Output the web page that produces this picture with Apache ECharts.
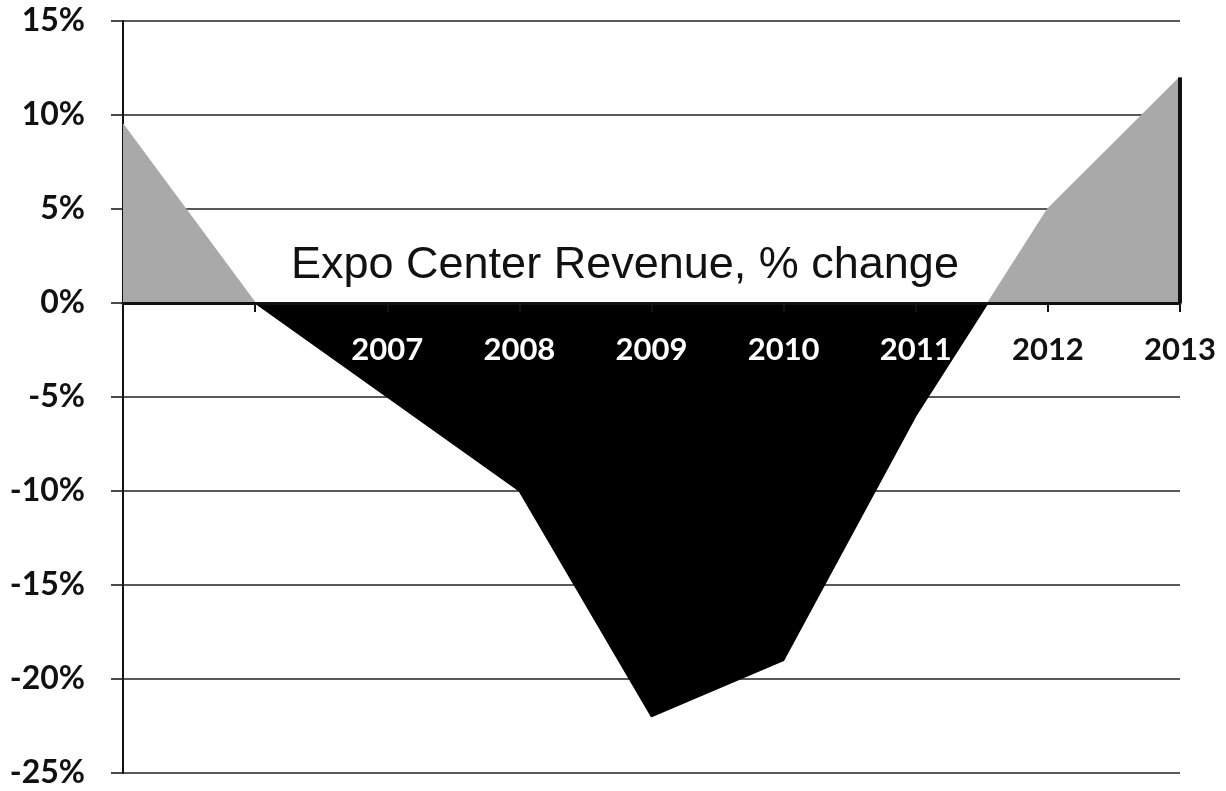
<!DOCTYPE html>
<html>
<head>
<meta charset="utf-8">
<script src="https://cdn.jsdelivr.net/npm/echarts@6/dist/echarts.min.js"></script>
<style>
  html, body { margin: 0; padding: 0; background: #fff; }
  #chart { width: 1226px; height: 791px; }
</style>
</head>
<body>
<div id="chart"></div>
<script>
// Year-over-year revenue change, in percent
const years = ['', '', '2007', '2008', '2009', '2010', '2011', '2012', '2013'];
const change = [9.5, 0, -5, -10, -22, -19, -6, 5, 12];
const yTicks = { min: -25, max: 15, step: 5 };
const titleText = 'Expo Center Revenue, % change';

const GAIN = '#a9a9a9';
const LOSS = '#000000';

const chart = echarts.init(document.getElementById('chart'), null, { renderer: 'canvas' });

const last = years.length - 1;

// Hard colour switch at zero, placed relative to the shape's vertical extent
const hi = Math.max(0, ...change);
const lo = Math.min(0, ...change);
const zeroAt = hi / (hi - lo);
function splitFill() {
  return {
    type: 'linear', x: 0, y: 0, x2: 0, y2: 1,
    colorStops: [
      { offset: 0, color: GAIN },
      { offset: zeroAt, color: GAIN },
      { offset: zeroAt, color: LOSS },
      { offset: 1, color: LOSS }
    ]
  };
}

// Year labels sit just under the zero line; white where they fall on a loss
const yearLabels = years.map(function (y, i) {
  return {
    value: [i, 0],
    label: { color: change[i] < 0 ? '#ffffff' : '#111111' }
  };
});

chart.setOption({
  animation: false,
  backgroundColor: '#ffffff',
  grid: { left: 123, right: 46, top: 21, bottom: 18, containLabel: false, outerBoundsMode: 'none' },
  graphic: [{
    type: 'text',
    left: 291,
    top: 243,
    z: 20,
    style: {
      text: titleText,
      font: '45px "Liberation Sans", Arial, sans-serif',
      fill: '#111'
    }
  }],
  xAxis: {
    type: 'category',
    data: years,
    boundaryGap: false,
    z: 5,
    axisLine: { onZero: true, lineStyle: { color: '#111', width: 3 } },
    axisTick: { show: true, inside: false, length: 9, lineStyle: { color: '#111', width: 2 } },
    axisLabel: { show: false },
    splitLine: { show: false }
  },
  yAxis: {
    type: 'value',
    min: yTicks.min,
    max: yTicks.max,
    interval: yTicks.step,
    axisLine: { show: true, lineStyle: { color: '#111', width: 2 } },
    axisTick: { show: true, length: 12, lineStyle: { color: '#111', width: 1.5 } },
    axisLabel: {
      margin: 38,
      formatter: '{value}%',
      fontFamily: 'Lato, "Noto Sans", sans-serif',
      fontSize: 32,
      fontWeight: 'bold',
      color: '#111'
    },
    splitLine: { show: true, lineStyle: { color: '#222', width: 1.5 } }
  },
  series: [{
    type: 'line',
    data: change,
    showSymbol: false,
    smooth: false,
    lineStyle: { width: 1.5, color: splitFill() },
    itemStyle: { color: GAIN },
    areaStyle: { opacity: 1, origin: 0, color: splitFill() }
  }, {
    // dark edge closing the last positive year down to the zero line
    type: 'line',
    data: [[last, 0], [last, change[last]]],
    showSymbol: false,
    silent: true,
    z: 3,
    lineStyle: { color: '#111', width: 4 }
  }, {
    type: 'scatter',
    data: yearLabels,
    symbolSize: 0,
    silent: true,
    z: 10,
    itemStyle: { opacity: 1 },
    label: {
      show: true,
      position: 'bottom',
      distance: 31,
      opacity: 1,
      fontFamily: 'Lato, "Noto Sans", sans-serif',
      fontSize: 31,
      fontWeight: 'bold',
      formatter: function (p) { return years[p.dataIndex]; }
    }
  }]
});
</script>
</body>
</html>
